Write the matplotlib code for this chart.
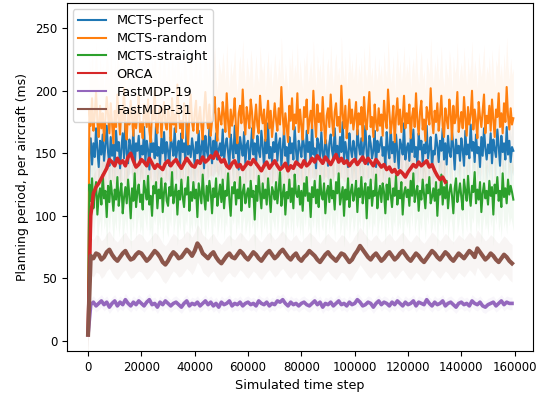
import numpy as np
import matplotlib
matplotlib.use("Agg")
import matplotlib.pyplot as plt

# mean planning period per aircraft (ms), MCTS runs sampled every 500 steps
perfect = [5, 150, 162, 141, 158, 147, 170, 153, 139, 160, 149, 165, 144, 156, 172, 151, 140, 163, 148, 157,
           143, 168, 152, 159, 138, 154, 166, 146, 175, 150, 142, 161, 155, 147, 169, 140, 158, 152, 164, 145,
           156, 149, 171, 143, 160, 153, 137, 165, 151, 158, 146, 173, 148, 155, 141, 162, 150, 167, 144, 159,
           152, 140, 163, 157, 148, 170, 145, 154, 160, 139, 166, 151, 158, 143, 174, 149, 156, 147, 162, 153,
           141, 159, 150, 168, 144, 155, 161, 138, 164, 152, 147, 171, 157, 142, 160, 150, 166, 145, 153, 158,
           148, 169, 143, 156, 162, 151, 140, 165, 154, 146, 172, 150, 159, 137, 163, 155, 148, 167, 142, 157,
           160, 145, 153, 170, 149, 158, 141, 164, 152, 147, 168, 156, 139, 161, 150, 174, 146, 155, 143, 159,
           151, 166, 144, 157, 162, 140, 153, 169, 148, 155, 136, 163, 150, 158, 145, 171, 152, 141, 160, 154,
           147, 164, 156, 142, 168, 151, 159, 145, 173, 149, 154, 138, 162, 157, 146, 167, 150, 143, 161, 155,
           140, 158, 165, 152, 146, 170, 148, 156, 143, 163, 151, 175, 145, 159, 150, 139, 166, 154, 147, 160,
           153, 142, 169, 157, 149, 162, 144, 155, 172, 150, 141, 164, 158, 146, 152, 168, 139, 160, 151, 157,
           163, 148, 155, 140, 167, 153, 146, 171, 150, 159, 143, 165, 152, 138, 161, 156, 149, 174, 145, 154,
           158, 144, 162, 151, 169, 147, 155, 140, 166, 153, 160, 142, 157, 150, 172, 146, 154, 163, 139, 152,
           149, 165, 156, 143, 160, 152, 170, 145, 158, 141, 164, 151, 147, 167, 155, 137, 161, 150, 156, 144,
           162, 153, 140, 168, 149, 157, 146, 173, 152, 159, 143, 165, 150, 155, 139, 163, 148, 170, 154, 145,
           157, 150, 166, 142, 161, 153, 147, 169, 156, 140, 164, 151, 158, 145, 171, 149, 160, 143, 155, 152]

random_ = [5, 185, 172, 194, 168, 180, 199, 175, 163, 188, 170, 182, 160, 177, 195, 181, 166, 190, 174, 158,
           184, 171, 197, 179, 165, 186, 176, 202, 169, 161, 183, 173, 192, 178, 164, 187, 170, 181, 196, 167,
           175, 162, 189, 180, 171, 193, 168, 159, 184, 177, 200, 172, 166, 182, 188, 163, 179, 191, 174, 169,
           186, 178, 160, 194, 173, 181, 167, 205, 183, 170, 176, 162, 190, 185, 171, 157, 180, 197, 175, 168,
           182, 192, 166, 177, 187, 172, 161, 184, 199, 179, 170, 189, 164, 176, 183, 195, 171, 160, 186, 178,
           173, 191, 181, 167, 198, 176, 163, 185, 172, 180, 194, 169, 158, 182, 188, 174, 201, 178, 165, 187,
           179, 170, 193, 183, 162, 176, 189, 172, 166, 196, 181, 174, 185, 160, 178, 192, 170, 184, 163, 175,
           190, 177, 168, 186, 173, 203, 180, 165, 182, 171, 159, 188, 176, 194, 169, 181, 174, 198, 167, 185,
           172, 161, 187, 179, 193, 166, 176, 184, 170, 200, 178, 163, 189, 175, 182, 168, 195, 173, 158, 180,
           186, 171, 197, 177, 164, 183, 190, 172, 179, 167, 204, 181, 170, 188, 162, 176, 193, 174, 185, 169,
           178, 191, 165, 182, 173, 187, 160, 195, 176, 169, 184, 199, 171, 179, 163, 189, 175, 168, 186, 172,
           181, 164, 192, 177, 170, 201, 183, 166, 175, 188, 159, 180, 194, 173, 185, 167, 178, 196, 170, 182,
           174, 189, 162, 179, 186, 171, 198, 176, 165, 183, 192, 169, 177, 160, 187, 181, 173, 202, 178, 166,
           184, 175, 190, 168, 180, 196, 172, 163, 186, 177, 170, 193, 182, 161, 188, 174, 179, 199, 167, 176,
           183, 170, 195, 178, 164, 187, 173, 181, 200, 169, 185, 176, 162, 191, 179, 171, 184, 197, 166, 180,
           174, 188, 168, 193, 177, 163, 185, 179, 198, 171, 182, 166, 190, 175, 203, 180, 169, 186, 173, 178]

straight = [5, 125, 112, 130, 106, 119, 127, 101, 116, 122, 109, 133, 114, 120, 99, 124, 111, 128, 117, 104,
            121, 113, 131, 108, 118, 126, 102, 115, 123, 110, 129, 116, 98, 122, 112, 134, 107, 119, 125, 111,
            117, 105, 128, 120, 113, 132, 109, 116, 100, 124, 118, 127, 106, 121, 114, 130, 103, 119, 126, 112,
            108, 123, 116, 135, 110, 118, 125, 101, 120, 113, 129, 115, 107, 122, 117, 131, 104, 119, 112, 127,
            114, 121, 99, 126, 118, 110, 133, 116, 105, 124, 112, 128, 119, 102, 122, 115, 130, 108, 117, 125,
            111, 129, 106, 120, 116, 134, 113, 100, 123, 118, 127, 109, 121, 114, 131, 104, 119, 125, 110, 117,
            122, 107, 128, 115, 120, 97, 124, 112, 132, 118, 106, 126, 114, 121, 109, 130, 116, 103, 123, 119,
            113, 127, 110, 121, 135, 108, 117, 125, 101, 119, 114, 129, 111, 122, 106, 133, 118, 115, 124, 109,
            120, 104, 126, 116, 131, 112, 118, 99, 123, 115, 128, 110, 121, 107, 132, 117, 113, 126, 102, 119,
            124, 111, 129, 114, 120, 105, 127, 118, 134, 109, 116, 123, 100, 121, 113, 130, 107, 119, 125, 112,
            117, 128, 103, 122, 115, 131, 110, 119, 126, 98, 123, 114, 129, 108, 120, 116, 133, 106, 118, 124,
            111, 126, 119, 102, 125, 113, 130, 117, 107, 122, 116, 132, 109, 120, 114, 127, 101, 118, 123, 115,
            121, 108, 128, 116, 134, 111, 119, 124, 104, 120, 113, 129, 117, 106, 125, 118, 131, 110, 115, 122,
            112, 127, 100, 121, 117, 133, 109, 123, 114, 128, 106, 119, 125, 116, 102, 122, 130, 111, 118, 126,
            115, 105, 129, 120, 112, 132, 117, 108, 124, 119, 135, 110, 121, 113, 127, 103, 118, 126, 114, 120,
            109, 128, 116, 123, 101, 125, 118, 131, 112, 120, 107, 134, 115, 122, 110, 129, 117, 124, 119, 113]

# ORCA and FastMDP runs sampled every 1000 steps
orca = [5, 100, 118, 123, 126, 130, 134, 138, 145, 143, 140, 146, 142, 144, 140, 147, 150, 144, 139, 141,
        145, 143, 140, 146, 142, 138, 141, 139, 137, 142, 144, 140, 143, 145, 141, 138, 142, 146, 143, 140,
        139, 144, 142, 147, 143, 145, 148, 146, 151, 147, 143, 145, 140, 138, 142, 144, 139, 141, 137, 140,
        143, 141, 145, 142, 139, 136, 140, 143, 138, 141, 144, 140, 137, 139, 142, 136, 140, 138, 143, 141,
        139, 144, 140, 142, 146, 143, 148, 145, 142, 147, 144, 141, 145, 149, 143, 146, 142, 144, 140, 143,
        145, 141, 144, 147, 142, 146, 143, 140, 145, 142, 139, 141, 137, 139, 135, 137, 133, 136, 134, 131,
        135, 138, 141, 139, 143, 140, 142, 144, 139, 141, 136, 132, 129, 131, 127]

fastmdp19 = [5, 29, 31, 28, 30, 32, 29, 31, 27, 30, 32, 28, 31, 29, 33, 30, 28, 31, 29, 32,
             30, 28, 31, 33, 29, 30, 27, 31, 29, 32, 30, 28, 30, 31, 29, 27, 30, 32, 28, 30,
             29, 31, 28, 30, 32, 29, 31, 28, 30, 27, 31, 29, 30, 32, 28, 30, 29, 31, 28, 30,
             31, 29, 30, 28, 32, 30, 29, 31, 28, 30, 29, 32, 31, 33, 30, 28, 31, 29, 30, 28,
             30, 31, 29, 28, 30, 32, 29, 31, 27, 30, 29, 31, 28, 30, 32, 29, 30, 28, 31, 29,
             30, 33, 31, 28, 29, 31, 30, 27, 30, 32, 29, 31, 30, 28, 31, 29, 32, 30, 28, 31,
             29, 30, 32, 28, 31, 30, 29, 33, 30, 28, 31, 29, 30, 32, 28, 30, 31, 29, 27, 30,
             31, 29, 30, 28, 32, 30, 29, 31, 28, 27, 29, 30, 31, 28, 30, 32, 29, 31, 30, 30]

fastmdp31 = [5, 68, 66, 70, 69, 65, 67, 71, 73, 69, 66, 64, 67, 70, 72, 68, 65, 66, 69, 71,
             70, 67, 64, 66, 69, 72, 70, 67, 63, 61, 64, 68, 71, 69, 66, 67, 70, 73, 71, 68,
             72, 78, 75, 70, 68, 66, 69, 71, 67, 64, 62, 65, 68, 70, 67, 66, 69, 72, 70, 67,
             65, 68, 71, 69, 66, 64, 67, 70, 72, 69, 66, 68, 71, 73, 70, 67, 65, 68, 70, 66,
             64, 67, 69, 72, 70, 68, 65, 63, 66, 69, 71, 68, 66, 64, 67, 70, 69, 66, 63, 65,
             69, 72, 76, 73, 70, 67, 65, 68, 70, 67, 64, 66, 69, 71, 68, 65, 67, 70, 72, 69,
             66, 64, 67, 70, 68, 65, 63, 66, 69, 72, 70, 67, 65, 68, 71, 69, 66, 64, 67, 70,
             68, 66, 69, 72, 70, 67, 74, 71, 68, 65, 67, 70, 68, 65, 63, 66, 69, 67, 64, 62]

# typical spread (std) of each run, read off the faint bands
spreads = [20, 40, 25, 15, 5, 15]
sample_every = [500, 500, 500, 1000, 1000, 1000]

labels = ["MCTS-perfect", "MCTS-random", "MCTS-straight", "ORCA", "FastMDP-19", "FastMDP-31"]
colors = ["#1f77b4", "#ff7f0e", "#2ca02c", "#d62728", "#9467bd", "#8c564b"]
widths = [1.5, 1.5, 1.5, 2.6, 2.6, 3.0]
series = [perfect, random_, straight, orca, fastmdp19, fastmdp31]

fig = plt.figure(figsize=(5.48, 3.97), dpi=100)
ax = fig.add_axes([0.122, 0.116, 0.851, 0.876])

for vals, sd, dt, c in zip(series, spreads, sample_every, colors):
    vals = np.array(vals, dtype=float)
    steps = np.arange(len(vals)) * dt
    ax.fill_between(steps, vals - sd, vals + sd, color=c, alpha=0.06, lw=0, zorder=1)

for vals, dt, lab, c, w in zip(series, sample_every, labels, colors, widths):
    steps = np.arange(len(vals)) * dt
    ax.plot(steps, vals, color=c, lw=w, label=lab, zorder=2)

ax.set_xlim(-7950, 166950)
ax.set_ylim(-8, 270)
ax.set_xticks(np.arange(0, 160001, 20000))
ax.set_yticks(np.arange(0, 251, 50))
ax.tick_params(labelsize=8.5)
ax.set_xlabel("Simulated time step", fontsize=9.2)
ax.set_ylabel("Planning period, per aircraft (ms)", fontsize=9)
leg = ax.legend(loc="upper left", fontsize=9.3, labelspacing=0.38, handlelength=2.2,
                borderaxespad=0.45)
for line in leg.get_lines():
    line.set_linewidth(1.5)

fig.savefig("out.png", dpi=100)
